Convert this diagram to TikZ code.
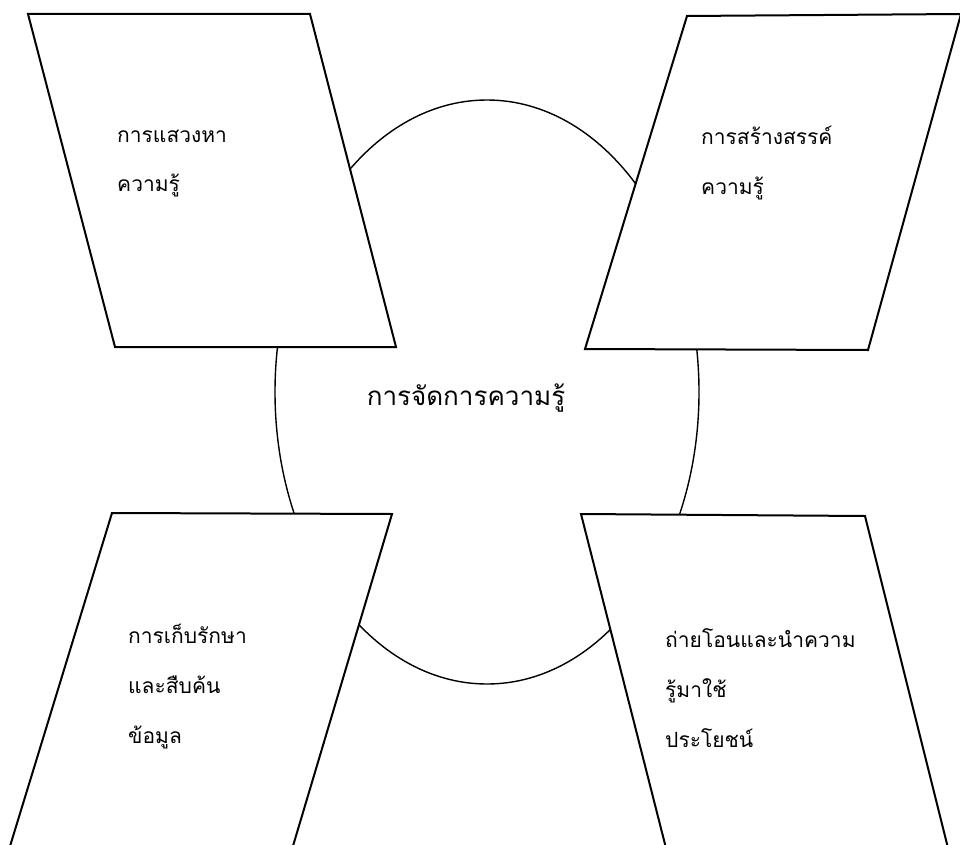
\documentclass[tikz,border=0pt]{standalone}
\usepackage{fontspec}
\newfontfamily\thaifont[Script=Thai]{Loma}
\begin{document}
\begin{tikzpicture}[x=1pt,y=-1pt,
  box/.style={draw=black, fill=white, line width=2pt, line join=miter},
  ring/.style={draw=black, line width=1.4pt},
  lbl/.style={font=\thaifont\fontsize{21}{50}\selectfont, anchor=base west, align=left, inner sep=0pt},
  hub/.style={font=\thaifont\fontsize{26}{30}\selectfont, anchor=base, inner sep=0pt}]
\useasboundingbox (0,0) rectangle (960,845);
\fill[white] (0,0) rectangle (960,845);
\clip (0,0) rectangle (960,845);
% central ellipse
\draw[ring] (487,392) ellipse [x radius=212, y radius=292];
% parallelograms
\draw[box] (28,14) -- (310,14) -- (396,347) -- (115,347) -- cycle;
\draw[box] (687,16) -- (961,14) -- (868,350) -- (585,349) -- cycle;
\draw[box] (112,513) -- (392,514) -- (290,856) -- (7,856) -- cycle;
\draw[box] (581,514) -- (865,516) -- (950,856) -- (668,856) -- cycle;
% texts (base anchor = baseline of the last line)
\node[hub] (center) at (466,405) {การจัดการความรู้};
\node[lbl] (seek) at (117,192) {การแสวงหา\\ความรู้};
\node[lbl] (create) at (701,194) {การสร้างสรรค์\\ความรู้};
\node[lbl] (store) at (128,743) {การเก็บรักษา\\และสืบค้น\\ข้อมูล};
\node[lbl] (transfer) at (665,747) {ถ่ายโอนและนำความ\\รู้มาใช้\\ประโยชน์};
\end{tikzpicture}
\end{document}
